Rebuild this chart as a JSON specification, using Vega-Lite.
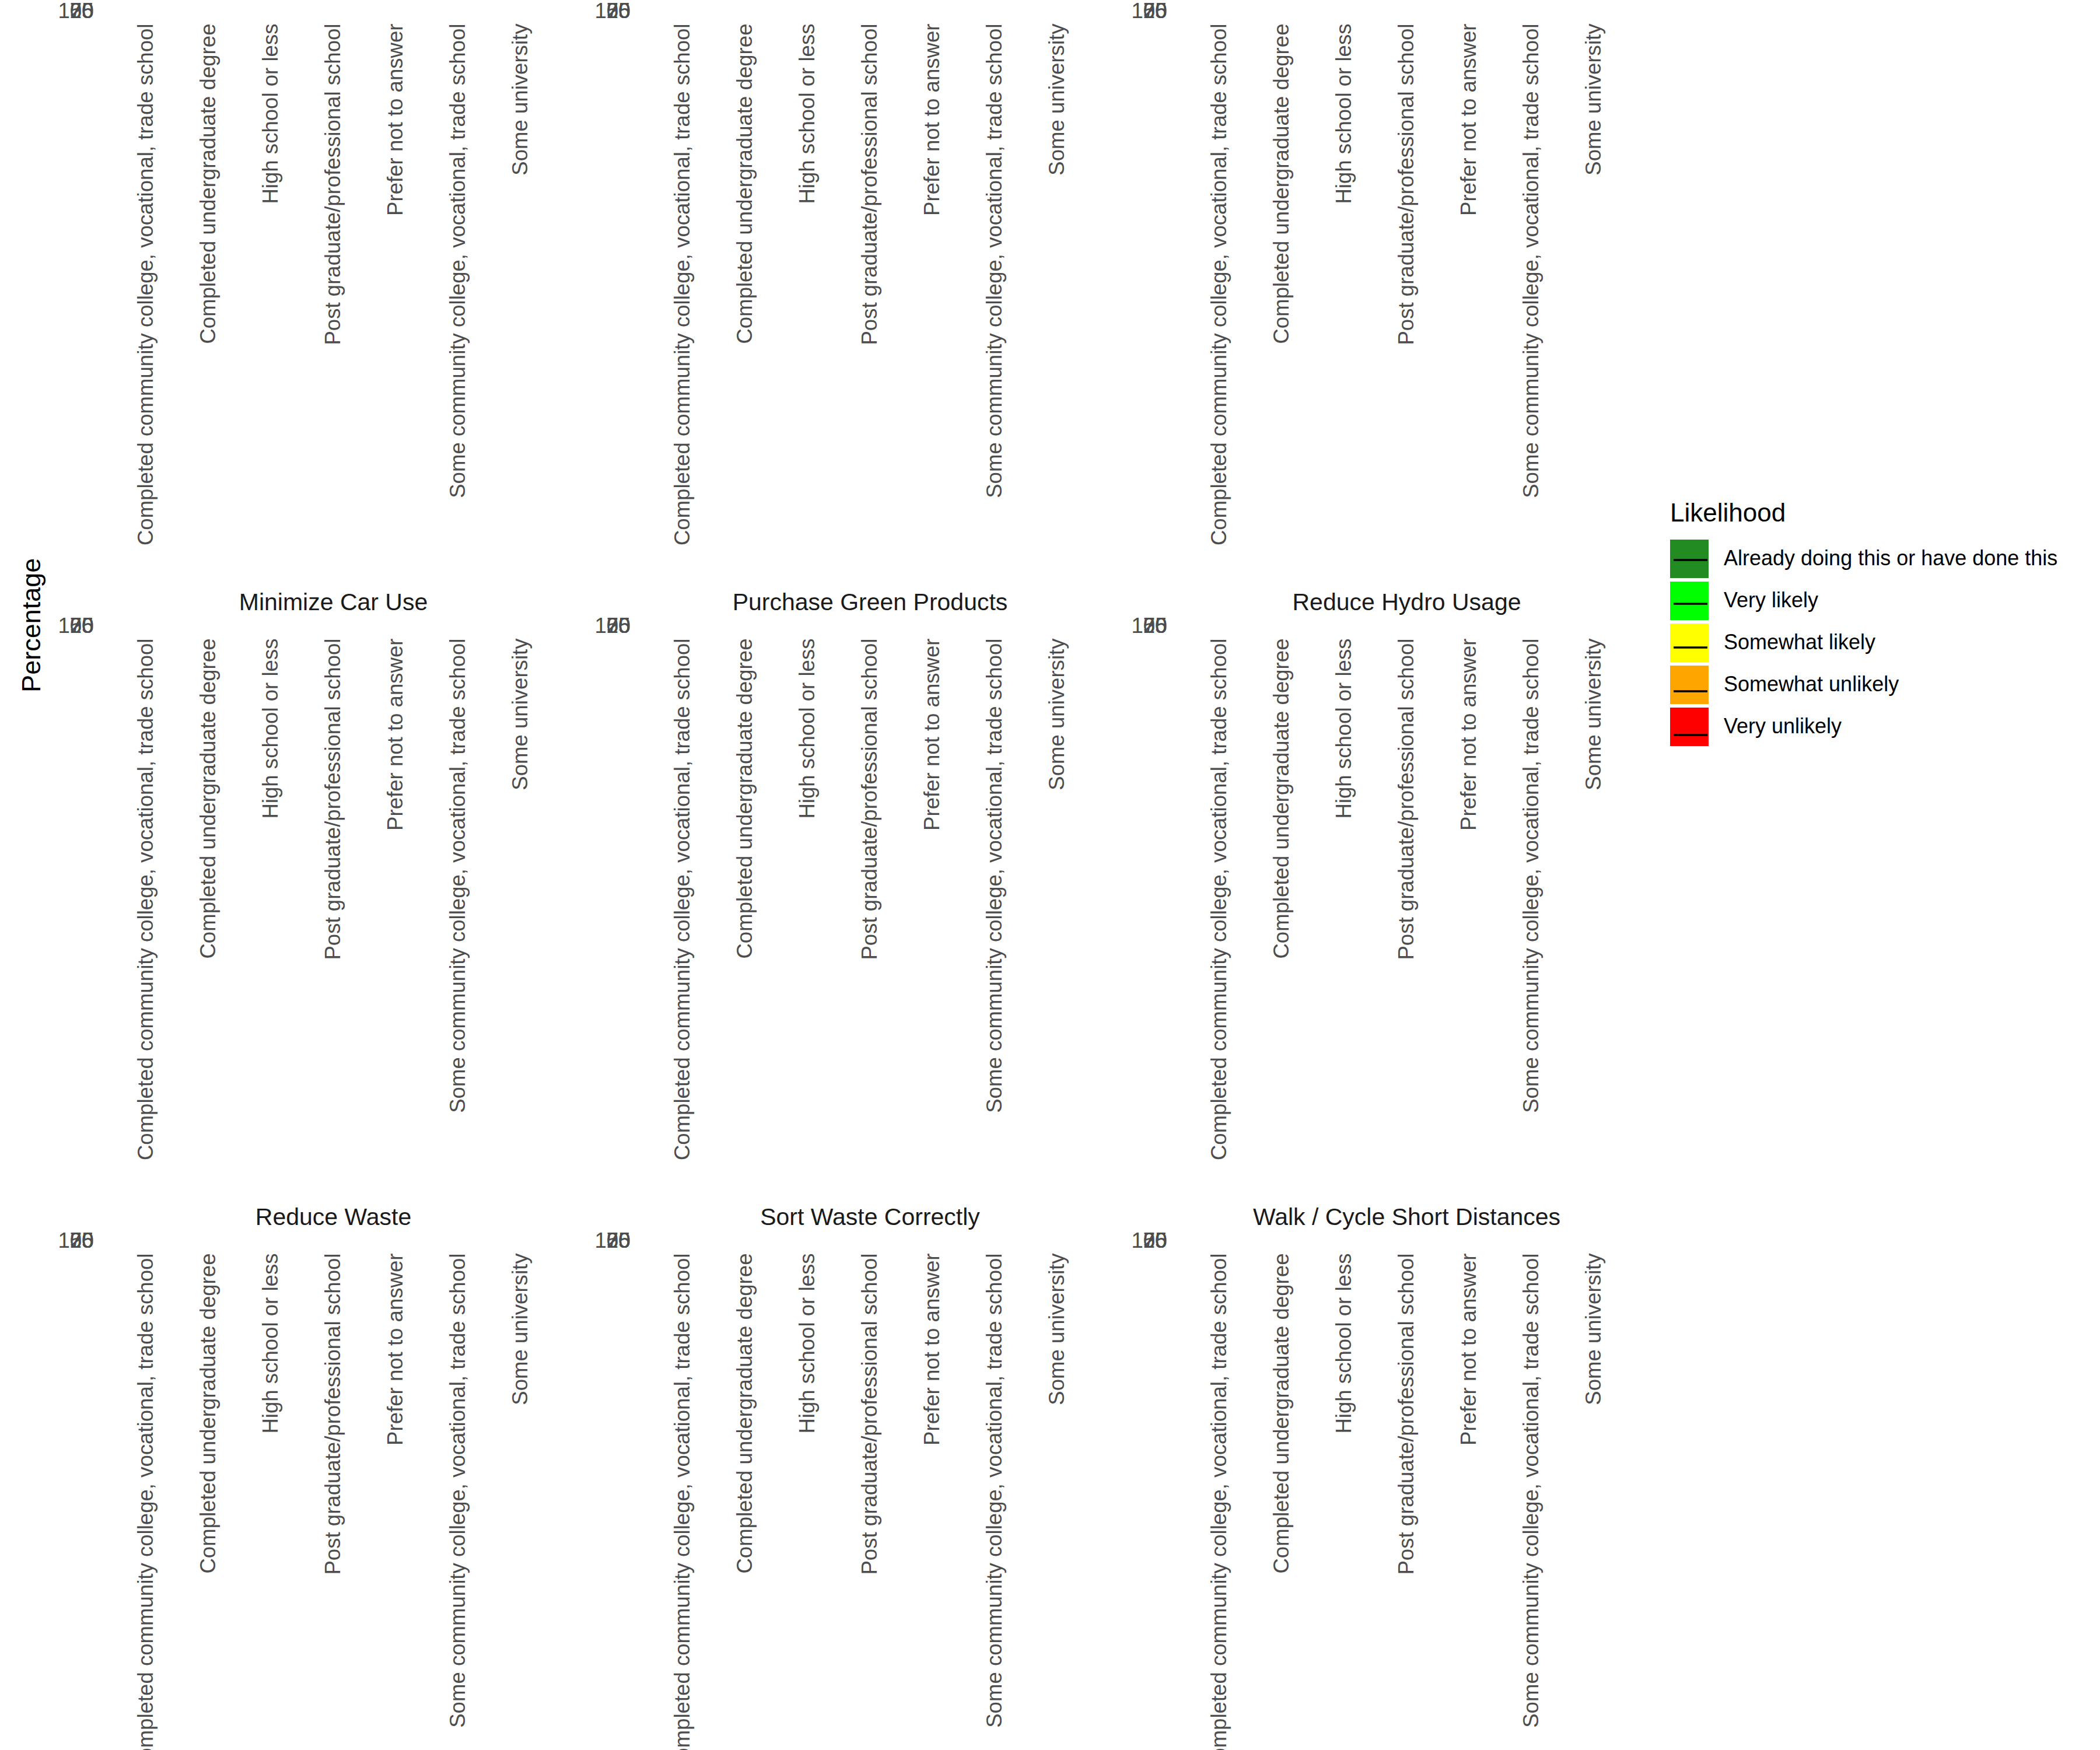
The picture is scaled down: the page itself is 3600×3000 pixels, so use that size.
{
  "$schema": "https://vega.github.io/schema/vega-lite/v6.json",
  "background": "white",
  "padding": {"left": 32, "top": -41, "right": 5, "bottom": 5},
  "title": {"text": "Percentage", "orient": "left", "anchor": "middle", "fontSize": 45, "font": "Liberation Sans", "fontWeight": "normal", "color": "black", "offset": 21, "dx": 429},
  "datasets": {
    "likelihood": [
      {"code": "AD", "Likelihood": "Already doing this or have done this"},
      {"code": "VL", "Likelihood": "Very likely"},
      {"code": "SL", "Likelihood": "Somewhat likely"},
      {"code": "SU", "Likelihood": "Somewhat unlikely"},
      {"code": "VU", "Likelihood": "Very unlikely"}
    ],
    "survey": [
      {"Action": "Eat Locally Grown Food", "Education": "Completed community college, vocational, trade school", "AD": 30, "VL": 25, "SL": 28, "SU": 10, "VU": 7},
      {"Action": "Eat Locally Grown Food", "Education": "Completed undergraduate degree", "AD": 33, "VL": 25, "SL": 28, "SU": 10, "VU": 4},
      {"Action": "Eat Locally Grown Food", "Education": "High school or less", "AD": 25, "VL": 25, "SL": 28, "SU": 15, "VU": 7},
      {"Action": "Eat Locally Grown Food", "Education": "Post graduate/professional school", "AD": 35, "VL": 25, "SL": 23, "SU": 10, "VU": 7},
      {"Action": "Eat Locally Grown Food", "Education": "Prefer not to answer", "AD": 27, "VL": 25, "SL": 28, "SU": 10, "VU": 10},
      {"Action": "Eat Locally Grown Food", "Education": "Some community college, vocational, trade school", "AD": 30, "VL": 27, "SL": 28, "SU": 8, "VU": 7},
      {"Action": "Eat Locally Grown Food", "Education": "Some university", "AD": 30, "VL": 25, "SL": 30, "SU": 8, "VU": 7},
      {"Action": "Limit Single-Use Plastics", "Education": "Completed community college, vocational, trade school", "AD": 45, "VL": 22, "SL": 20, "SU": 8, "VU": 5},
      {"Action": "Limit Single-Use Plastics", "Education": "Completed undergraduate degree", "AD": 48, "VL": 22, "SL": 20, "SU": 8, "VU": 2},
      {"Action": "Limit Single-Use Plastics", "Education": "High school or less", "AD": 40, "VL": 22, "SL": 20, "SU": 13, "VU": 5},
      {"Action": "Limit Single-Use Plastics", "Education": "Post graduate/professional school", "AD": 50, "VL": 22, "SL": 15, "SU": 8, "VU": 5},
      {"Action": "Limit Single-Use Plastics", "Education": "Prefer not to answer", "AD": 42, "VL": 22, "SL": 20, "SU": 8, "VU": 8},
      {"Action": "Limit Single-Use Plastics", "Education": "Some community college, vocational, trade school", "AD": 45, "VL": 24, "SL": 20, "SU": 6, "VU": 5},
      {"Action": "Limit Single-Use Plastics", "Education": "Some university", "AD": 45, "VL": 22, "SL": 22, "SU": 6, "VU": 5},
      {"Action": "Lower Thermostat", "Education": "Completed community college, vocational, trade school", "AD": 40, "VL": 20, "SL": 22, "SU": 11, "VU": 7},
      {"Action": "Lower Thermostat", "Education": "Completed undergraduate degree", "AD": 43, "VL": 20, "SL": 22, "SU": 11, "VU": 4},
      {"Action": "Lower Thermostat", "Education": "High school or less", "AD": 35, "VL": 20, "SL": 22, "SU": 16, "VU": 7},
      {"Action": "Lower Thermostat", "Education": "Post graduate/professional school", "AD": 45, "VL": 20, "SL": 17, "SU": 11, "VU": 7},
      {"Action": "Lower Thermostat", "Education": "Prefer not to answer", "AD": 37, "VL": 20, "SL": 22, "SU": 11, "VU": 10},
      {"Action": "Lower Thermostat", "Education": "Some community college, vocational, trade school", "AD": 40, "VL": 22, "SL": 22, "SU": 9, "VU": 7},
      {"Action": "Lower Thermostat", "Education": "Some university", "AD": 40, "VL": 20, "SL": 24, "SU": 9, "VU": 7},
      {"Action": "Minimize Car Use", "Education": "Completed community college, vocational, trade school", "AD": 25, "VL": 15, "SL": 25, "SU": 20, "VU": 15},
      {"Action": "Minimize Car Use", "Education": "Completed undergraduate degree", "AD": 28, "VL": 15, "SL": 25, "SU": 20, "VU": 12},
      {"Action": "Minimize Car Use", "Education": "High school or less", "AD": 20, "VL": 15, "SL": 25, "SU": 25, "VU": 15},
      {"Action": "Minimize Car Use", "Education": "Post graduate/professional school", "AD": 30, "VL": 15, "SL": 20, "SU": 20, "VU": 15},
      {"Action": "Minimize Car Use", "Education": "Prefer not to answer", "AD": 22, "VL": 15, "SL": 25, "SU": 20, "VU": 18},
      {"Action": "Minimize Car Use", "Education": "Some community college, vocational, trade school", "AD": 25, "VL": 17, "SL": 25, "SU": 18, "VU": 15},
      {"Action": "Minimize Car Use", "Education": "Some university", "AD": 25, "VL": 15, "SL": 27, "SU": 18, "VU": 15},
      {"Action": "Purchase Green Products", "Education": "Completed community college, vocational, trade school", "AD": 30, "VL": 20, "SL": 32, "SU": 12, "VU": 6},
      {"Action": "Purchase Green Products", "Education": "Completed undergraduate degree", "AD": 33, "VL": 20, "SL": 32, "SU": 12, "VU": 3},
      {"Action": "Purchase Green Products", "Education": "High school or less", "AD": 25, "VL": 20, "SL": 32, "SU": 17, "VU": 6},
      {"Action": "Purchase Green Products", "Education": "Post graduate/professional school", "AD": 35, "VL": 20, "SL": 27, "SU": 12, "VU": 6},
      {"Action": "Purchase Green Products", "Education": "Prefer not to answer", "AD": 27, "VL": 20, "SL": 32, "SU": 12, "VU": 9},
      {"Action": "Purchase Green Products", "Education": "Some community college, vocational, trade school", "AD": 30, "VL": 22, "SL": 32, "SU": 10, "VU": 6},
      {"Action": "Purchase Green Products", "Education": "Some university", "AD": 30, "VL": 20, "SL": 34, "SU": 10, "VU": 6},
      {"Action": "Reduce Hydro Usage", "Education": "Completed community college, vocational, trade school", "AD": 50, "VL": 20, "SL": 20, "SU": 6, "VU": 4},
      {"Action": "Reduce Hydro Usage", "Education": "Completed undergraduate degree", "AD": 53, "VL": 20, "SL": 20, "SU": 6, "VU": 1},
      {"Action": "Reduce Hydro Usage", "Education": "High school or less", "AD": 45, "VL": 20, "SL": 20, "SU": 11, "VU": 4},
      {"Action": "Reduce Hydro Usage", "Education": "Post graduate/professional school", "AD": 55, "VL": 20, "SL": 15, "SU": 6, "VU": 4},
      {"Action": "Reduce Hydro Usage", "Education": "Prefer not to answer", "AD": 47, "VL": 20, "SL": 20, "SU": 6, "VU": 7},
      {"Action": "Reduce Hydro Usage", "Education": "Some community college, vocational, trade school", "AD": 50, "VL": 22, "SL": 20, "SU": 4, "VU": 4},
      {"Action": "Reduce Hydro Usage", "Education": "Some university", "AD": 50, "VL": 20, "SL": 22, "SU": 4, "VU": 4},
      {"Action": "Reduce Waste", "Education": "Completed community college, vocational, trade school", "AD": 55, "VL": 20, "SL": 17, "SU": 5, "VU": 3},
      {"Action": "Reduce Waste", "Education": "Completed undergraduate degree", "AD": 58, "VL": 20, "SL": 17, "SU": 5, "VU": 0},
      {"Action": "Reduce Waste", "Education": "High school or less", "AD": 50, "VL": 20, "SL": 17, "SU": 10, "VU": 3},
      {"Action": "Reduce Waste", "Education": "Post graduate/professional school", "AD": 60, "VL": 20, "SL": 12, "SU": 5, "VU": 3},
      {"Action": "Reduce Waste", "Education": "Prefer not to answer", "AD": 52, "VL": 20, "SL": 17, "SU": 5, "VU": 6},
      {"Action": "Reduce Waste", "Education": "Some community college, vocational, trade school", "AD": 55, "VL": 22, "SL": 17, "SU": 3, "VU": 3},
      {"Action": "Reduce Waste", "Education": "Some university", "AD": 55, "VL": 20, "SL": 19, "SU": 3, "VU": 3},
      {"Action": "Sort Waste Correctly", "Education": "Completed community college, vocational, trade school", "AD": 65, "VL": 18, "SL": 11, "SU": 4, "VU": 2},
      {"Action": "Sort Waste Correctly", "Education": "Completed undergraduate degree", "AD": 67, "VL": 18, "SL": 11, "SU": 4, "VU": 0},
      {"Action": "Sort Waste Correctly", "Education": "High school or less", "AD": 60, "VL": 18, "SL": 11, "SU": 9, "VU": 2},
      {"Action": "Sort Waste Correctly", "Education": "Post graduate/professional school", "AD": 70, "VL": 18, "SL": 6, "SU": 4, "VU": 2},
      {"Action": "Sort Waste Correctly", "Education": "Prefer not to answer", "AD": 62, "VL": 18, "SL": 11, "SU": 4, "VU": 5},
      {"Action": "Sort Waste Correctly", "Education": "Some community college, vocational, trade school", "AD": 65, "VL": 20, "SL": 11, "SU": 2, "VU": 2},
      {"Action": "Sort Waste Correctly", "Education": "Some university", "AD": 65, "VL": 18, "SL": 13, "SU": 2, "VU": 2},
      {"Action": "Walk / Cycle Short Distances", "Education": "Completed community college, vocational, trade school", "AD": 35, "VL": 18, "SL": 22, "SU": 13, "VU": 12},
      {"Action": "Walk / Cycle Short Distances", "Education": "Completed undergraduate degree", "AD": 38, "VL": 18, "SL": 22, "SU": 13, "VU": 9},
      {"Action": "Walk / Cycle Short Distances", "Education": "High school or less", "AD": 30, "VL": 18, "SL": 22, "SU": 18, "VU": 12},
      {"Action": "Walk / Cycle Short Distances", "Education": "Post graduate/professional school", "AD": 40, "VL": 18, "SL": 17, "SU": 13, "VU": 12},
      {"Action": "Walk / Cycle Short Distances", "Education": "Prefer not to answer", "AD": 32, "VL": 18, "SL": 22, "SU": 13, "VU": 15},
      {"Action": "Walk / Cycle Short Distances", "Education": "Some community college, vocational, trade school", "AD": 35, "VL": 20, "SL": 22, "SU": 11, "VU": 12},
      {"Action": "Walk / Cycle Short Distances", "Education": "Some university", "AD": 35, "VL": 18, "SL": 24, "SU": 11, "VU": 12}
    ]
  },
  "data": {"name": "survey"},
  "transform": [
    {"fold": ["AD", "VL", "SL", "SU", "VU"], "as": ["code", "Percentage"]},
    {"lookup": "code", "from": {"data": {"name": "likelihood"}, "key": "code", "fields": ["Likelihood"]}}
  ],
  "facet": {
    "field": "Action",
    "type": "nominal",
    "header": {"title": null, "labelFontSize": 41, "labelFont": "Liberation Sans", "labelColor": "#1A1A1A", "labelPadding": 0}
  },
  "columns": 3,
  "spacing": {"row": 78, "column": 61},
  "resolve": {"axis": {"x": "independent", "y": "independent"}},
  "spec": {
    "width": 771,
    "height": 0.01,
    "layer": [
      {
        "mark": {"type": "bar", "clip": true},
        "encoding": {
          "x": {"field": "Education", "type": "nominal", "scale": {"type": "point", "padding": 0.6}},
          "y": {"field": "Percentage", "type": "quantitative", "stack": "zero", "scale": {"domain": [0, 100]}, "axis": {"values": [0, 25, 50, 75, 100], "tickCount": 5, "labelOverlap": false, "labelFlush": false, "labelBound": false}},
          "color": {
            "field": "Likelihood",
            "type": "nominal",
            "scale": {
              "domain": ["Already doing this or have done this", "Very likely", "Somewhat likely", "Somewhat unlikely", "Very unlikely"],
              "range": ["#228B22", "#00FF00", "#FFFF00", "#FFA500", "#FF0000"]
            },
            "legend": {
              "orient": "none", "legendX": 2677, "legendY": 840, "padding": 0,
              "title": "Likelihood", "titleFontSize": 44, "titleFont": "Liberation Sans", "titleFontWeight": "normal", "titleColor": "black", "titlePadding": 22, "titleLimit": 2000,
              "labelFontSize": 36, "labelFont": "Liberation Sans", "labelColor": "black", "labelOffset": 26, "labelLimit": 2000,
              "symbolType": "square", "symbolSize": 4356, "symbolStrokeWidth": 0, "symbolOpacity": 1, "rowPadding": 6
            }
          }
        }
      },
      {
        "mark": {"type": "point", "opacity": 0, "filled": false, "clip": true},
        "encoding": {
          "x": {"field": "Education", "type": "nominal", "scale": {"type": "point", "padding": 0.6}},
          "y": {"field": "Percentage", "type": "quantitative", "scale": {"domain": [0, 100]}},
          "shape": {
            "field": "Likelihood",
            "type": "nominal",
            "scale": {"range": ["M-0.88,0H0.88M0,-0.788L0,-0.788M0,0.788L0,0.788", "M-0.88,0H0.88M0,-0.788L0,-0.788M0,0.788L0,0.788", "M-0.88,0H0.88M0,-0.788L0,-0.788M0,0.788L0,0.788", "M-0.88,0H0.88M0,-0.788L0,-0.788M0,0.788L0,0.788", "M-0.88,0H0.88M0,-0.788L0,-0.788M0,0.788L0,0.788"]},
            "legend": {
              "orient": "none", "legendX": 2677, "legendY": 840, "padding": 0, "zindex": 2,
              "title": "Likelihood", "titleFontSize": 44, "titleFont": "Liberation Sans", "titleFontWeight": "normal", "titleOpacity": 0, "titlePadding": 22, "titleLimit": 2000,
              "labelFontSize": 36, "labelFont": "Liberation Sans", "labelOpacity": 0, "labelOffset": 26, "labelLimit": 2000,
              "symbolSize": 4356, "symbolStrokeColor": "black", "symbolStrokeWidth": 3.5, "symbolFillColor": "transparent", "symbolOpacity": 1, "rowPadding": 6
            }
          }
        }
      }
    ]
  },
  "config": {
    "font": "Liberation Sans",
    "view": {"stroke": null},
    "axis": {
      "grid": false, "domain": false, "ticks": false, "tickSize": 0, "title": null,
      "labelFontSize": 36.6, "labelFont": "Liberation Sans", "labelColor": "#4D4D4D",
      "labelOverlap": false, "labelLimit": 2000
    },
    "axisX": {"labelAngle": -90, "labelPadding": 21},
    "axisY": {"labelPadding": 26, "labelFlush": false}
  }
}
